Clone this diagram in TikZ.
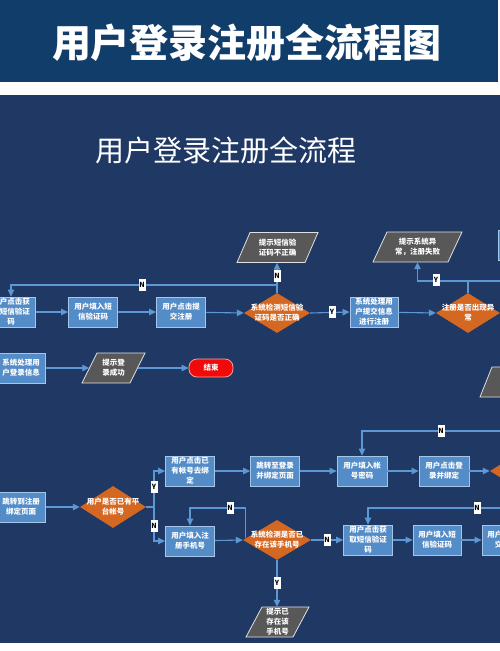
\documentclass[tikz,border=0pt]{standalone}
\usepackage{fontspec}
\setmainfont{Noto Sans CJK SC}
\usetikzlibrary{arrows.meta,shapes.geometric,calc}
\definecolor{hdr}{RGB}{16,61,105}
\definecolor{bgmain}{RGB}{31,56,100}
\definecolor{boxfill}{RGB}{84,140,200}
\definecolor{boxline}{RGB}{165,198,232}
\definecolor{diafill}{RGB}{212,104,34}
\definecolor{parafill}{RGB}{88,88,88}
\definecolor{paraline}{RGB}{225,225,225}
\definecolor{arrowc}{RGB}{92,152,212}
\definecolor{endfill}{RGB}{240,10,10}
\definecolor{endline}{RGB}{255,160,160}
\tikzset{
 box/.style={draw=boxline, fill=boxfill, line width=0.8pt, minimum width=49pt, minimum height=30pt, inner sep=0pt, align=center, text=white, font=\fontsize{7.5}{10}\selectfont\bfseries},
 dia/.style={diamond, fill=diafill, inner sep=0pt, minimum width=66pt, minimum height=40pt},
 dtext/.style={align=center, text=white, font=\fontsize{7.5}{10}\selectfont\bfseries, inner sep=0pt},
 conn/.style={draw=arrowc, line width=1.1pt, -{Triangle[length=7pt,width=6.5pt]}},
 plain/.style={draw=arrowc, line width=1.1pt},
 lab/.style={fill=white, text=black, inner sep=0.8pt, minimum height=12pt, minimum width=7pt, font=\fontsize{7}{7}\selectfont\bfseries},
 parash/.style={fill=parafill, draw=paraline, line width=0.8pt},
}
\newcommand\paranode[6]{%
 \path[parash] ({#2-#4/2+#5/2},{#3-15}) -- ({#2+#4/2+#5/2},{#3-15}) -- ({#2+#4/2-#5/2},{#3+15}) -- ({#2-#4/2-#5/2},{#3+15}) -- cycle;
 \node[dtext, minimum width=#4pt, minimum height=30pt] (#1) at (#2,#3) {#6};%
}
\begin{document}
\begin{tikzpicture}[x=1pt,y=-1pt]
\useasboundingbox (0,0) rectangle (500,651);
\fill[white] (0,0) rectangle (500,651);
\fill[hdr] (0,0) rectangle (498,82);
\fill[bgmain] (0,95) rectangle (500,643);
\node[text=white, font=\fontsize{39}{42}\selectfont\bfseries] (title) at (247,43) {用户登录注册全流程图};
\node[text=white, font=\fontsize{29}{32}\selectfont] (subtitle) at (226,150) {用户登录注册全流程};
\begin{scope}
\clip (0,95) rectangle (500,643);
% row 1
\node[box] (A) at (11,312) {用户点击获\\取短信验证\\码};
\node[box] (B) at (93,312) {用户填入短\\信验证码};
\node[box] (C) at (181,312) {用户点击提\\交注册};
\node[dia] (D) at (277,313) {};
\node[dtext] (Dt) at (D) {系统检测短信验\\证码是否正确};
\paranode{P1}{277.5}{247.5}{68}{13}{提示短信验\\证码不正确}
\node[box, minimum width=48pt] (E) at (374,312) {系统处理用\\户提交信息\\进行注册};
\node[dia, minimum width=64pt] (F) at (468,313) {};
\node[dtext] (Ft) at (F) {注册是否出现异\\常};
\paranode{P2}{417.5}{247}{75}{14}{提示系统异\\常，注册失败}
\node[box] (RB) at (523,245) {};
% row 2
\node[box] (G) at (21,368) {系统处理用\\户登录信息};
\paranode{P3}{113.5}{368}{48}{15}{提示登\\录成功}
\node[draw=endline, fill=endfill, line width=0.8pt, rounded corners=8pt, minimum width=44pt, minimum height=18pt, inner sep=0pt, text=white, font=\fontsize{7.5}{9}\selectfont\bfseries] (End) at (211,368) {结束};
\paranode{RP}{516}{382}{60}{12}{}
% row 3
\node[box] (H) at (21,507) {跳转到注册\\绑定页面};
\node[dia, minimum height=42pt] (I) at (113,507) {};
\node[dtext] (It) at (I) {用户是否已有平\\台帐号};
\node[box] (J) at (190,471) {用户点击已\\有帐号去绑\\定};
\node[box] (L) at (275,471) {跳转至登录\\并绑定页面};
\node[box, minimum width=50pt] (M) at (362,471) {用户填入帐\\号密码};
\node[box, minimum width=50pt] (Nb) at (444,471) {用户点击登\\录并绑定};
\node[dia, minimum width=64pt] (RD) at (522,471) {};
% row 4
\node[box] (K) at (190,541) {用户填入注\\册手机号};
\node[dia, minimum width=68pt] (O) at (277,540) {};
\node[dtext] (Ot) at (O) {系统检测是否已\\存在该手机号};
\node[box] (P) at (368,540) {用户点击获\\取短信验证\\码};
\node[box, minimum width=48pt] (Q) at (437,540) {用户填入短\\信验证码};
\node[box, minimum width=48pt] (R) at (506,540) {用户点击提\\交注册};
\paranode{P4}{277.5}{622}{47}{16}{提示已\\存在该\\手机号}
% coordinates
\coordinate (j1) at (277,285);
\coordinate (j2) at (468,281);
\coordinate (j3) at (154,507);
\coordinate (offr1) at (512,281);
\coordinate (offr2) at (512,431);
\coordinate (offr3) at (512,508);
\coordinate (oj) at ($(O.west)!0.08!(O.north)$);
% connectors row 1
\draw[conn] (A) -- (B);
\draw[conn] (B) -- (C);
\draw[conn] (C) -- (D.west);
\draw[conn] (D.east) -- (E.west);
\draw[conn] (E) -- (F.west);
\draw[conn] (D.north) -- (D.north |- P1.south);
\draw[conn] (j1) -| (A.north);
\draw[conn] (F.north) -- (j2) -| (P2.south);
\draw[plain] (j2) -- (offr1);
% row 2
\draw[conn] (G) -- (P3.west);
\draw[conn] (P3.east) -- (End.west);
% row 3
\draw[conn] (H) -- (I.west);
\draw[plain] (I.east) -- (j3);
\draw[conn] (j3) |- (J.west);
\draw[conn] (j3) |- (K.west);
\draw[conn] (J) -- (L);
\draw[conn] (L) -- (M);
\draw[conn] (M) -- (Nb);
\draw[conn] (Nb) -- (RD.west);
\draw[conn] (offr2) -| (M.north);
% row 4
\draw[conn] (K) -- (O.west);
\draw[conn] (O.east) -- (P.west);
\draw[conn] (P) -- (Q);
\draw[conn] (Q) -- (R);
\draw[conn] (offr3) -| (P.north);
\draw[conn] (oj) -- (oj |- 0,508) -| (K.north);
\draw[conn] (O.south) -- (O.south |- P4.north);
% labels
\node[lab] (l1) at (142,285) {N};
\node[lab] (l2) at (277,276) {N};
\node[lab] (l3) at (332,312) {Y};
\node[lab] (l4) at (436,280) {Y};
\node[lab] (l5) at (503,281) {N};
\node[lab] (l6) at (154,487) {Y};
\node[lab] (l7) at (154,526) {N};
\node[lab] (l8) at (441,431) {N};
\node[lab] (l9) at (230,508) {N};
\node[lab] (l10) at (477,508) {N};
\node[lab] (l11) at (327,540) {N};
\node[lab] (l12) at (277,583) {Y};
\end{scope}
\end{tikzpicture}
\end{document}
